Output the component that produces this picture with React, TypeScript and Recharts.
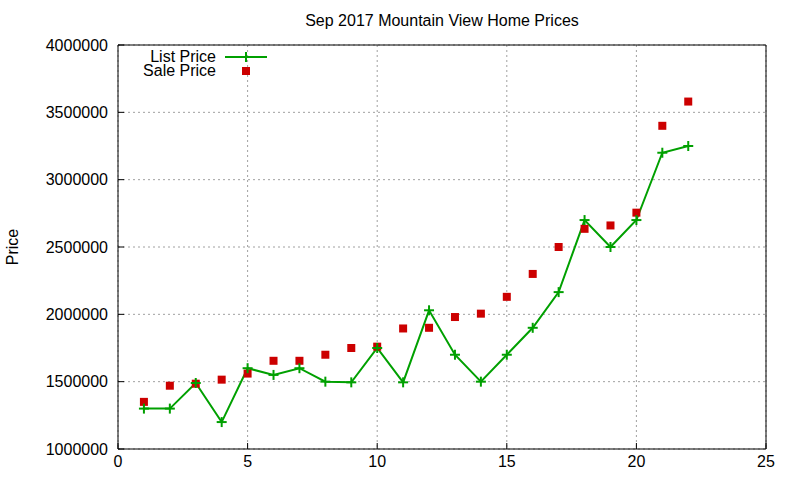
import { ComposedChart, Line, Scatter, XAxis, YAxis, CartesianGrid, Legend } from "recharts";

const months = [1, 2, 3, 4, 5, 6, 7, 8, 9, 10, 11, 12, 13, 14, 15, 16, 17, 18, 19, 20, 21, 22];
const listPrice = [
  1300000, 1300000, 1490000, 1200000, 1600000, 1550000, 1600000, 1500000, 1495000, 1750000, 1495000,
  2030000, 1700000, 1500000, 1700000, 1900000, 2165000, 2700000, 2500000, 2700000, 3200000, 3250000,
];
const salePrice = [
  1350000, 1470000, 1485000, 1515000, 1560000, 1655000, 1655000, 1700000, 1750000, 1760000, 1895000,
  1900000, 1980000, 2005000, 2130000, 2300000, 2500000, 2635000, 2660000, 2755000, 3400000, 3580000,
];
const xTicks = [0, 5, 10, 15, 20, 25];
const yTicks = [1000000, 1500000, 2000000, 2500000, 3000000, 3500000, 4000000];

const FONT = "'Liberation Sans', Arial, sans-serif";
const GREEN = "#00a000";
const RED = "#cc0000";

const data = months.map((m, i) => ({ month: m, list: listPrice[i], sale: salePrice[i] }));

// plus marker like gnuplot's pointtype 1
const PlusDot = (props: any) => {
  const { cx, cy, index } = props;
  if (cx == null || cy == null) return <g key={`p-${index}`} />;
  return (
    <g key={`p-${index}`}>
      <line x1={cx - 5} y1={cy} x2={cx + 5} y2={cy} stroke={GREEN} strokeWidth={2} />
      <line x1={cx} y1={cy - 5} x2={cx} y2={cy + 5} stroke={GREEN} strokeWidth={2} />
    </g>
  );
};

const SquareDot = (props: any) => {
  const { cx, cy } = props;
  return <rect x={cx - 4} y={cy - 4} width={8} height={8} fill={RED} />;
};

const renderLegend = () => (
  <div style={{ fontFamily: FONT, fontSize: 16, color: "#000" }}>
    <div style={{ display: "flex", alignItems: "center", height: 14 }}>
      <span style={{ width: 216, textAlign: "right", lineHeight: "14px" }}>List Price</span>
      <svg width={60} height={14} style={{ marginLeft: 9 }}>
        <line x1={0} y1={7} x2={42} y2={7} stroke={GREEN} strokeWidth={2} />
        <line x1={21} y1={2} x2={21} y2={12} stroke={GREEN} strokeWidth={2} />
      </svg>
    </div>
    <div style={{ display: "flex", alignItems: "center", height: 14 }}>
      <span style={{ width: 216, textAlign: "right", lineHeight: "14px" }}>Sale Price</span>
      <svg width={60} height={14} style={{ marginLeft: 9 }}>
        <rect x={17} y={3} width={8} height={8} fill={RED} />
      </svg>
    </div>
  </div>
);

const YLabel = (props: any) => {
  const vb = props.viewBox || {};
  const cy = (vb.y || 0) + (vb.height || 0) / 2;
  return (
    <text x={12} y={cy} transform={`rotate(-90 12 ${cy})`} textAnchor="middle" dominantBaseline="central"
      fontFamily={FONT} fontSize={16} fill="#000">
      Price
    </text>
  );
};

export default function App() {
  const tickStyle = { fontFamily: FONT, fontSize: 16, fill: "#000" };
  return (
    <div style={{ position: "absolute", left: 0, top: 0, width: 800, height: 480, background: "#fff" }}>
      <ComposedChart width={800} height={480} data={data} margin={{ top: 44, right: 33, bottom: 0, left: 0 }}>
        <CartesianGrid stroke="#a0a0a0" strokeDasharray="2 3" />
        <XAxis
          dataKey="month"
          type="number"
          domain={[0, 25]}
          ticks={xTicks}
          height={31}
          tick={tickStyle}
          tickSize={-6}
          tickMargin={13}
          axisLine={{ stroke: "#000" }}
          tickLine={{ stroke: "#000" }}
        />
        <XAxis
          xAxisId="top"
          dataKey="month"
          orientation="top"
          type="number"
          domain={[0, 25]}
          ticks={xTicks}
          height={1}
          tick={false}
          tickSize={-6}
          axisLine={{ stroke: "#000" }}
          tickLine={{ stroke: "#000" }}
          label={{ value: "Sep 2017 Mountain View Home Prices", position: "top", offset: 18, fontFamily: FONT, fontSize: 16, fill: "#000" }}
        />
        <YAxis
          type="number"
          domain={[1000000, 4000000]}
          ticks={yTicks}
          width={118}
          tick={tickStyle}
          tickSize={-6}
          tickMargin={16}
          axisLine={{ stroke: "#000" }}
          tickLine={{ stroke: "#000" }}
          label={<YLabel />}
        />
        <YAxis
          yAxisId="right"
          orientation="right"
          type="number"
          domain={[1000000, 4000000]}
          ticks={yTicks}
          width={1}
          tick={false}
          tickSize={-6}
          axisLine={{ stroke: "#000" }}
          tickLine={{ stroke: "#000" }}
        />
        <Legend
          layout="vertical"
          align="center"
          verticalAlign="middle"
          content={renderLegend}
          wrapperStyle={{ position: "absolute", left: 0, top: 50, width: 300 }}
        />
        <Line
          dataKey="list"
          name="List Price"
          stroke={GREEN}
          strokeWidth={2}
          dot={PlusDot}
          activeDot={false}
          isAnimationActive={false}
        />
        <Scatter
          xAxisId="top"
          yAxisId="right"
          dataKey="sale"
          name="Sale Price"
          fill={RED}
          shape={SquareDot}
          isAnimationActive={false}
        />
      </ComposedChart>
    </div>
  );
}
